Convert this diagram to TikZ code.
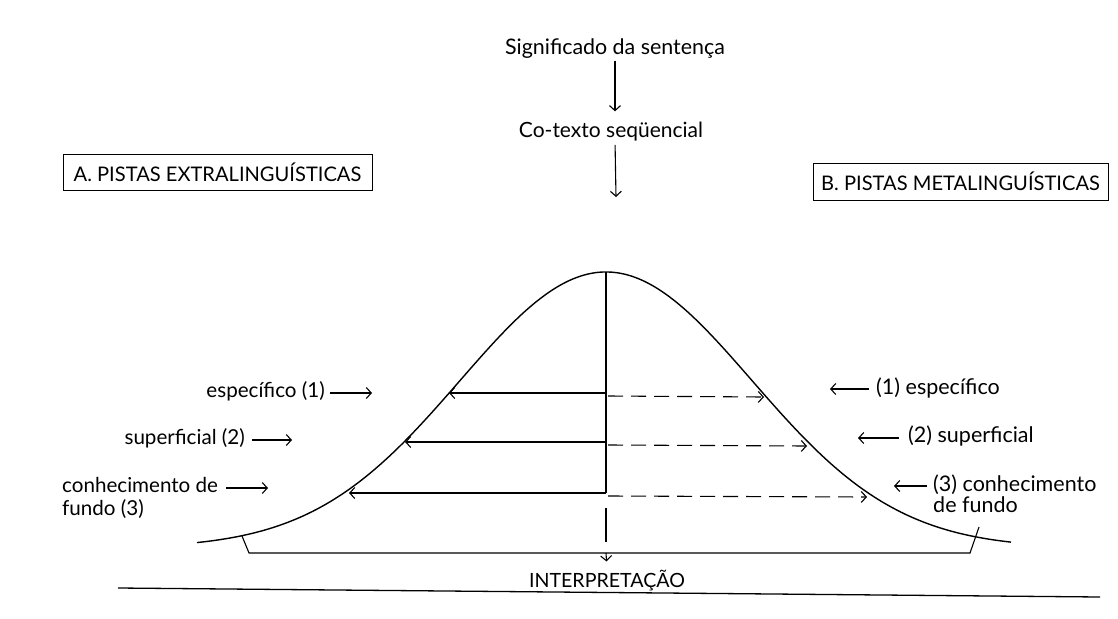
\documentclass[tikz,border=0pt]{standalone}
\usepackage{fontspec}
\setmainfont{Lato}
\usetikzlibrary{arrows.meta}
\begin{document}
\begin{tikzpicture}[x=1pt,y=-1pt,
  lbl/.style={inner sep=0pt, font=\fontsize{20.6}{23}\selectfont},
  rlbl/.style={inner sep=0pt, font=\fontsize{21.5}{21}\selectfont},
  caps/.style={inner sep=0pt, font=\fontsize{19.6}{22}\selectfont},
  boxlbl/.style={draw, line width=1pt, inner sep=0pt, minimum height=36pt, font=\fontsize{20.1}{22}\selectfont},
  arr/.style={line width=1.1pt, -{Straight Barb[length=5pt,width=11pt]}},
  dasharr/.style={arr, dash pattern=on 15pt off 8pt},
  plain/.style={line width=1.1pt},
  curve/.style={line width=1.4pt}
]
\useasboundingbox (0,0) rectangle (1118,618);

% top texts and arrows
\node[lbl, font=\fontsize{21.4}{23}\selectfont, anchor=base] (sig) at (615,55) {Significado da sentença};
\node[lbl, font=\fontsize{21}{23}\selectfont, anchor=base] (cot) at (611,137) {Co-texto seqüencial};
\coordinate (a2) at (616,197);
\draw[arr, shorten <=1.5pt, shorten >=10pt] (sig.south) -- (sig.south |- cot.north);
\draw[arr, shorten <=4pt] (sig.south |- cot.south) -- (a2);

% boxes
\node[boxlbl, minimum width=309pt] (boxA) at (217.5,172.5) {A. PISTAS EXTRALINGUÍSTICAS};
\node[boxlbl, minimum width=295pt, minimum height=37pt] (boxB) at (960.5,181.5) {B. PISTAS METALINGUÍSTICAS};

% bell curve
\draw[curve] plot[domain=-4.09:4.05, samples=160, smooth]
  ({606+100*\x}, {548-276*exp(-(\x*\x)/(2*1.46*1.46))});
\coordinate (peak) at (606,272);
\coordinate (v1) at (606,393);
\coordinate (v2) at (606,442);
\coordinate (v3) at (606,493);
\draw[plain] (peak) -- (v3);

% solid arrows to the left
\coordinate (l1) at (449,393);
\coordinate (l2) at (405,442);
\coordinate (l3) at (349,493);
\draw[arr] (v1) -- (l1);
\draw[arr] (v2) -- (l2);
\draw[arr] (v3) -- (l3);

% dashed arrows to the right
\coordinate (d1) at (608,396);
\coordinate (d2) at (608,445);
\coordinate (d3) at (608,496);
\coordinate (r1) at (764,397);
\coordinate (r2) at (807,446);
\coordinate (r3) at (867,497);
\draw[dasharr] (d1) -- (r1);
\draw[dasharr] (d2) -- (r2);
\draw[dasharr] (d3) -- (r3);

% left labels
\node[lbl, anchor=base east] (e1) at (325,397) {específico (1)};
\node[lbl, anchor=base east] (s2) at (245,444) {superficial (2)};
\node[lbl, anchor=north west, align=left] (c3) at (62,477) {conhecimento de\\fundo (3)};
\coordinate (e1t) at (372,393);
\coordinate (s2t) at (292,440);
\coordinate (c3t) at (268,488);
\draw[arr, shorten <=5pt] (e1.east |- e1t) -- (e1t);
\draw[arr, shorten <=7pt] (s2.east |- s2t) -- (s2t);
\coordinate (c3s) at (226,488);
\draw[arr] (c3s) -- (c3t);

% right labels
\node[rlbl, anchor=base west] (e1r) at (876,394) {(1) específico};
\node[rlbl, anchor=base west] (s2r) at (908,442) {(2) superficial};
\node[rlbl, anchor=north west, align=left] (c3r) at (933,475) {(3) conhecimento\\de fundo};
\coordinate (e1rt) at (830,389);
\coordinate (s2rt) at (858,438);
\coordinate (c3rt) at (894,486);
\draw[arr, shorten <=7pt] (e1r.west |- e1rt) -- (e1rt);
\draw[arr, shorten <=9pt] (s2r.west |- s2rt) -- (s2rt);
\draw[arr, shorten <=6pt] (c3r.west |- c3rt) -- (c3rt);

% lower part
\coordinate (lv1) at (606,508);
\coordinate (lv2) at (606,542);
\draw[plain] (lv1) -- (lv2);
\coordinate (bl1) at (242,536);
\coordinate (bl2) at (249,553);
\coordinate (br2) at (970,553);
\coordinate (br1) at (979,527);
\draw[plain] (bl1) -- (bl2) -- (br2) -- (br1);
\coordinate (bm) at (606,553);
\node[caps, anchor=base] (interp) at (607,587) {INTERPRETAÇÃO};
\draw[arr, shorten >=8pt] (bm) -- (interp.north);
\coordinate (g1) at (118,588);
\coordinate (g2) at (1100,597);
\draw[line width=1.3pt] (g1) -- (g2);
\end{tikzpicture}
\end{document}
